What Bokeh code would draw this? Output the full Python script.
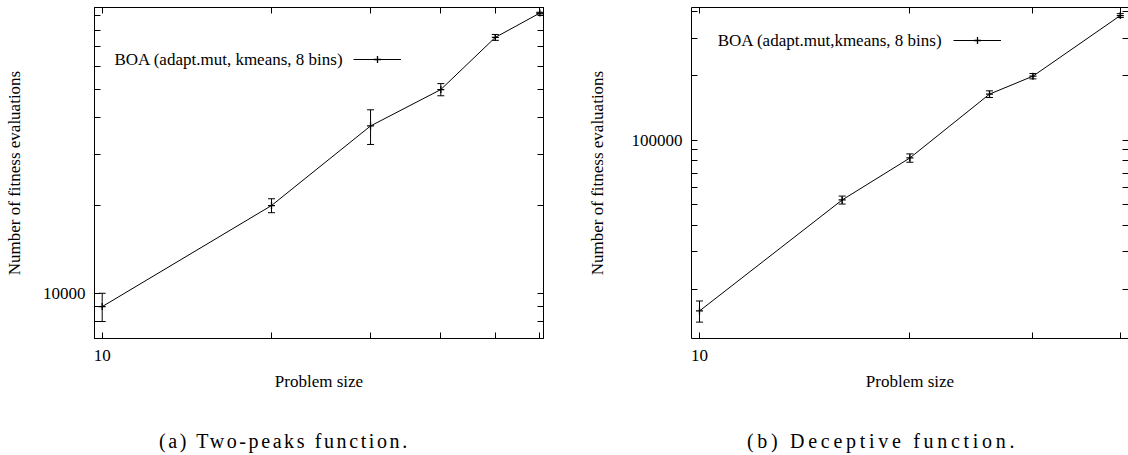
from bokeh.plotting import figure
from bokeh.models import (ColumnDataSource, Whisker, TeeHead, FixedTicker,
                          CustomJSTickFormatter, LogAxis, Legend, LegendItem,
                          Label, Div, Range1d)
from bokeh.layouts import row, column
from bokeh.embed import file_html
from bokeh.resources import INLINE

FONT = "Liberation Serif"

# ---------------- data ----------------
# (a) Two-peaks function
sizes_a = [10, 20, 30, 40, 50, 60]
evals_a = [9000, 20000, 37500, 50000, 75500, 91500]
err_a = [1000, 1100, 5100, 2400, 1750, 600]

# (b) Deceptive function
sizes_b = [10, 16, 20, 26, 30, 40]
evals_b = [15900, 52500, 82500, 164000, 199000, 382000]
err_b = [1800, 2250, 3700, 5900, 5700, 8000]

xticks_a = [10, 20, 30, 40, 50, 60]
yticks_a = [8000, 9000, 10000, 20000, 30000, 40000, 50000, 60000, 70000, 80000, 90000]
xticks_b = [10, 20, 30, 40]
yticks_b = [20000, 30000, 40000, 50000, 60000, 70000, 80000, 90000,
            100000, 200000, 300000, 400000]
xlabel_tick = 10
ylabel_tick_a = 10000
ylabel_tick_b = 100000

legend_a = "BOA (adapt.mut, kmeans, 8 bins)"
legend_b = "BOA (adapt.mut,kmeans, 8 bins)"
caption_a = "(a) Two-peaks function."
caption_b = "(b) Deceptive function."
x_title = "Problem size"
y_title = "Number of fitness evaluations"


def label_formatter(v):
    return CustomJSTickFormatter(
        code=f"return Math.abs(tick - {v}) < {v} * 1e-6 ? '{v}' : '';")


def style_main_axis(ax, ticks, v):
    ax.ticker = FixedTicker(ticks=ticks)
    ax.formatter = label_formatter(v)
    ax.major_tick_in = 6
    ax.major_tick_out = 0
    ax.minor_tick_line_color = None
    ax.axis_line_color = "black"
    ax.axis_line_width = 1
    ax.major_tick_line_color = "black"
    ax.major_label_text_font = FONT
    ax.major_label_text_font_size = "17px"
    ax.major_label_text_color = "black"
    ax.axis_label_text_font = FONT
    ax.axis_label_text_font_size = "17px"
    ax.axis_label_text_font_style = "normal"
    ax.axis_label_text_color = "black"


def mirror_axis(ticks, line=True):
    return LogAxis(ticker=FixedTicker(ticks=ticks),
                   formatter=CustomJSTickFormatter(code="return '';"),
                   major_label_text_font_size="0px", major_label_standoff=0,
                   major_tick_in=6, major_tick_out=0,
                   minor_tick_line_color=None,
                   axis_line_color="black" if line else None,
                   major_tick_line_color="black")


def panel(width, ml, mr, xr, yr, xs, ys, errs, xt, yt, yv, leg_text,
          leg_pos, text_pos, right_line, ylab_standoff):
    p = figure(width=width, height=393, x_axis_type="log", y_axis_type="log",
               x_range=Range1d(*xr), y_range=Range1d(*yr),
               output_backend="svg", toolbar_location=None,
               min_border_left=ml, min_border_right=mr,
               min_border_top=7, min_border_bottom=54)
    p.xgrid.visible = False
    p.ygrid.visible = False
    p.outline_line_color = "black" if right_line else None
    p.outline_line_width = 1

    src = ColumnDataSource(dict(
        x=xs, y=ys,
        upper=[y + e for y, e in zip(ys, errs)],
        lower=[y - e for y, e in zip(ys, errs)]))
    wh = Whisker(base="x", upper="upper", lower="lower", source=src,
                 dimension="height", line_color="black", line_width=1,
                 upper_head=TeeHead(size=7, line_color="black", line_width=1),
                 lower_head=TeeHead(size=7, line_color="black", line_width=1))
    p.add_layout(wh)
    lr = p.line("x", "y", source=src, line_color="black", line_width=1)
    sr = p.scatter("x", "y", source=src, marker="cross", size=7,
                   line_color="black", line_width=1.3)

    style_main_axis(p.xaxis[0], xt, xlabel_tick)
    style_main_axis(p.yaxis[0], yt, yv)
    p.xaxis[0].axis_label = x_title
    p.yaxis[0].axis_label = y_title
    p.xaxis[0].major_label_standoff = 11
    p.xaxis[0].axis_label_standoff = 8
    p.yaxis[0].major_label_standoff = 9
    p.yaxis[0].axis_label_standoff = ylab_standoff

    p.add_layout(mirror_axis(xt), "above")
    p.add_layout(mirror_axis(yt, right_line), "right")

    leg = Legend(items=[LegendItem(label=" ", renderers=[lr, sr])],
                 location=leg_pos, glyph_width=48, glyph_height=18,
                 label_text_font_size="1px", label_standoff=0,
                 label_width=0, label_height=0, padding=0, margin=0,
                 spacing=0, border_line_color=None,
                 background_fill_alpha=0)
    p.add_layout(leg)
    p.add_layout(Label(x=text_pos[0], y=text_pos[1], x_units="screen",
                       y_units="screen", text=leg_text, text_align="right",
                       text_baseline="middle", text_font=FONT,
                       text_font_size="17px", text_color="black"))
    return p


p1 = panel(560, 94, 17, (9.69, 60.9), (6996, 95600), sizes_a, evals_a,
           err_a, xticks_a, yticks_a, ylabel_tick_a, legend_a,
           (259, 269.7), (249, 278.7), True, 16)
p2 = panel(568, 131, 0, (9.74, 41.1), (11820, 416700), sizes_b, evals_b,
           err_b, xticks_b, yticks_b, ylabel_tick_b, legend_b,
           (262.3, 289), (251, 298), False, 22)

span_style = ("display:inline-block;font-family:'{f}',serif;font-size:20px;"
              "line-height:20px;letter-spacing:{ls}px;color:black;"
              "vertical-align:top;")
cap_html = (
    '<div style="white-space:nowrap;padding-top:33px;padding-left:154px;">'
    f'<span style="{span_style.format(f=FONT, ls=2.6)}width:588px;">{caption_a}</span>'
    f'<span style="{span_style.format(f=FONT, ls=3.7)}">{caption_b}</span>'
    '</div>')
captions = Div(text=cap_html, width=1128, height=62)

layout = column(row(p1, p2), captions)

open("out.html", "w").write(file_html(layout, INLINE))
